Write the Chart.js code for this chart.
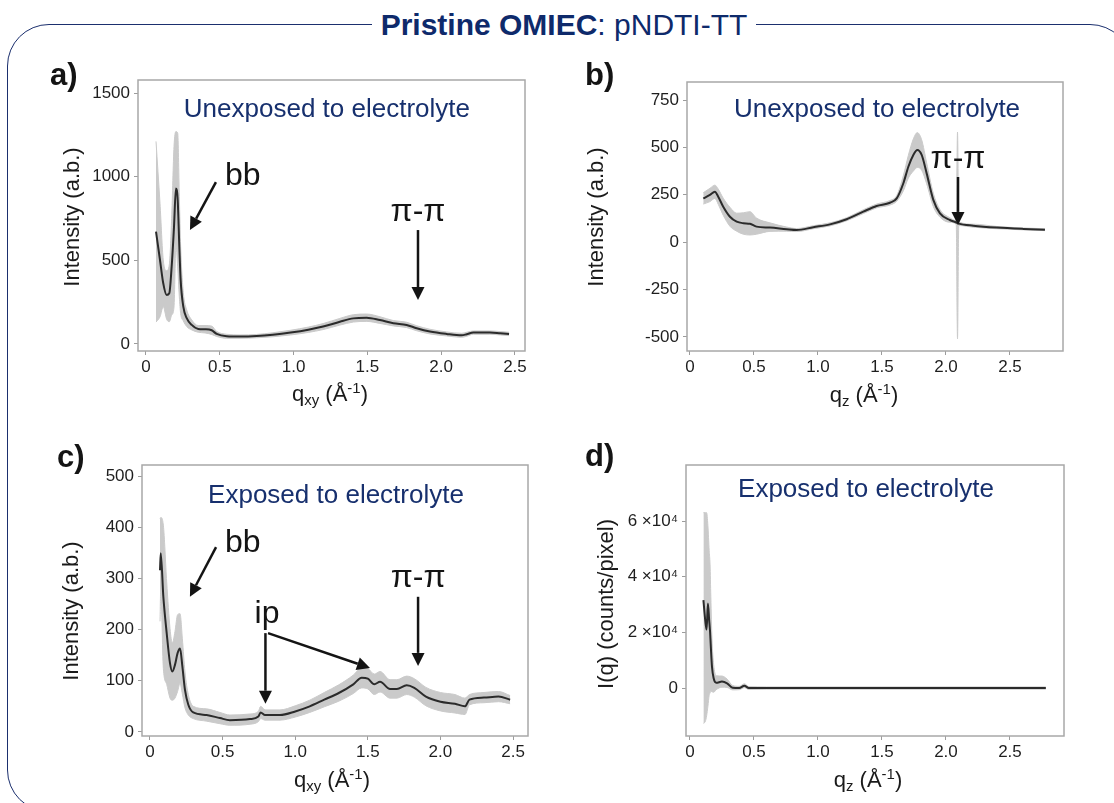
<!DOCTYPE html>
<html>
<head>
<meta charset="utf-8">
<script src="https://cdn.jsdelivr.net/npm/chart.js@4.4.1/dist/chart.umd.min.js"></script>
<style>
  html, body { margin: 0; padding: 0; background: #fff; overflow: hidden; }
  body { width: 1114px; height: 803px; position: relative; font-family: "Liberation Sans", Arial, sans-serif; }
  #frame { position: absolute; left: 7px; top: 24px; width: 1125px; height: 788px;
           border: 1.5px solid #1b2f6e; border-radius: 42px; box-sizing: border-box; }
  #title { position: absolute; left: 0; top: 8px; width: 1128px; text-align: center;
           font-size: 30px; line-height: 34px; color: #0e2a6b; }
  #title span { background: #fff; padding: 0 9px; }
  canvas { position: absolute; }
</style>
</head>
<body>
<div id="frame"></div>
<div id="title"><span><b>Pristine OMIEC</b>: pNDTI-TT</span></div>
<canvas id="chartA"></canvas>
<canvas id="chartB"></canvas>
<canvas id="chartC"></canvas>
<canvas id="chartD"></canvas>

<script>
// ---- data ----
const qTicks = [0, 0.5, 1.0, 1.5, 2.0, 2.5];

// a) in-plane, unexposed
const aQ = [0.068, 0.095, 0.117, 0.140, 0.158, 0.174, 0.190, 0.203, 0.215, 0.226,
            0.235, 0.253, 0.276, 0.31, 0.354, 0.40, 0.445, 0.479, 0.547, 0.637,
            0.75, 0.86, 0.98, 1.10, 1.20, 1.314, 1.405, 1.495, 1.585, 1.676,
            1.766, 1.834, 1.924, 2.037, 2.139, 2.173, 2.218, 2.33, 2.40, 2.46];
const aI = [671, 502, 363, 293, 303, 462, 701, 930, 861, 582,
            382, 223, 154, 114, 90, 88, 82, 60, 46, 44,
            47, 55, 68, 85, 104, 133, 153, 157, 143, 124,
            114, 94, 74, 60, 52, 58, 68, 68, 64, 60];
const aErr = [540, 340, 140, 145, 170, 290, 480, 340, 400, 300,
              200, 85, 50, 30, 20, 22, 25, 15, 12, 10,
              10, 12, 14, 16, 18, 20, 22, 22, 20, 16,
              16, 15, 14, 12, 12, 12, 10, 10, 10, 10];
const aYTicks = [0, 500, 1000, 1500];

// b) out-of-plane, unexposed
const bQ = [0.104, 0.156, 0.195, 0.221, 0.26, 0.3125, 0.365, 0.417, 0.469, 0.52,
            0.625, 0.755, 0.833, 0.964, 1.094, 1.224, 1.354, 1.458, 1.5625, 1.615,
            1.667, 1.706, 1.745, 1.776, 1.81, 1.849, 1.901, 1.953, 2.03, 2.08,
            2.09, 2.10, 2.214, 2.396, 2.604, 2.773];
const bI = [231, 249, 266, 240, 187, 134, 108, 100, 97, 82,
            77, 68, 64, 79, 94, 121, 161, 191, 208, 231,
            311, 398, 460, 486, 460, 363, 223, 152, 117, 104,
            101, 98, 87, 77, 70, 66];
const bErrUp = [30, 35, 35, 40, 45, 50, 45, 55, 64, 45,
                25, 12, 8, 8, 8, 8, 10, 10, 12, 15,
                40, 60, 85, 92, 80, 55, 35, 20, 12, 10,
                480, 10, 8, 6, 5, 5];
const bErrDn = [30, 35, 35, 40, 45, 50, 50, 58, 59, 40,
                20, 10, 8, 8, 8, 8, 10, 10, 12, 15,
                40, 60, 85, 92, 80, 55, 35, 20, 12, 10,
                611, 10, 8, 6, 5, 5];
const bYTicks = [-500, -250, 0, 250, 500, 750];

// c) in-plane, exposed
const cQ = [0.069, 0.074, 0.092, 0.115, 0.138, 0.154, 0.172, 0.19, 0.207, 0.223,
            0.241, 0.264, 0.298, 0.39, 0.482, 0.55, 0.689, 0.746, 0.762, 0.792,
            0.895, 1.0, 1.1, 1.2, 1.3, 1.4, 1.458, 1.5, 1.545, 1.584,
            1.653, 1.70, 1.768, 1.82, 1.9, 2.0, 2.1, 2.169, 2.20, 2.3,
            2.4, 2.48];
const cI = [316, 349, 264, 193, 134, 118, 131, 154, 163, 128,
            82, 53, 38, 33, 27, 23, 25, 30, 38, 33,
            33, 40, 50, 63, 76, 93, 106, 104, 93, 98,
            84, 84, 91, 86, 69, 59, 55, 50, 63, 67,
            69, 63];
const cErr = [100, 70, 140, 100, 68, 56, 65, 75, 68, 54,
              35, 20, 12, 12, 11, 10, 10, 10, 12, 10,
              10, 11, 12, 14, 16, 18, 20, 20, 20, 20,
              18, 18, 18, 18, 18, 18, 18, 16, 10, 10,
              10, 8];
const cYTicks = [0, 100, 200, 300, 400, 500];

// d) out-of-plane, exposed
const dQ = [0.105, 0.12, 0.13, 0.14, 0.15, 0.157, 0.163, 0.172, 0.185, 0.205,
            0.25, 0.29, 0.333, 0.385, 0.425, 0.46, 0.6, 1.0, 1.5, 2.0,
            2.5, 2.78];
const dI = [31600, 24000, 21000, 30400, 24400, 20200, 14800, 7650, 3480, 1900,
            2300, 1700, 120, 0, 830, 0, 0, 0, 0, 0,
            0, 0];
const dErrUp = [31400, 39000, 42000, 28000, 25000, 24000, 18000, 10000, 5000, 2500,
                2000, 1500, 800, 600, 700, 500, 400, 400, 400, 400,
                400, 400];
const dErrDn = [44300, 36000, 31000, 37000, 27000, 22000, 16000, 9000, 5000, 2500,
                2000, 1500, 800, 600, 700, 500, 400, 400, 400, 400,
                400, 400];
const dYTicks = [0, 20000, 40000, 60000];

// ---- layout ----
const FONT = '"Liberation Sans", Arial, sans-serif';
const NAVY = '#17306e';
const INK = '#141414';
const PADL = 110, PADT = 30, PADR = 20, PADB = 70;

const qxyTitle = [{t: 'q'}, {t: 'xy', s: 'sub'}, {t: ' (Å'}, {t: '-1', s: 'sup'}, {t: ')'}];
const qzTitle = [{t: 'q'}, {t: 'z', s: 'sub'}, {t: ' (Å'}, {t: '-1', s: 'sup'}, {t: ')'}];

const qFmt = v => v === 0 ? '0' : v.toFixed(1);

const panels = [
  { id: 'chartA', box: [138, 80, 525, 351], q: aQ, I: aI, up: aErr, dn: aErr,
    xr: [-0.054, 2.568], yr: [-42, 1578], yTicks: aYTicks, yFmt: v => String(v),
    letter: ['a)', 50, 85], yTitle: ['Intensity (a.b.)', 73, 217], xTitle: [qxyTitle, 330, 401],
    heading: ['Unexposed to electrolyte', 1.226, 1357],
    notes: [['bb', 0.535, 950, 'left'], ['π-π', 1.843, 735, 'center']],
    arrows: [[0.474, 968, 0.298, 681], [1.843, 681, 1.843, 263]] },
  { id: 'chartB', box: [687, 82, 1063, 351], q: bQ, I: bI, up: bErrUp, dn: bErrDn,
    xr: [-0.023, 2.914], yr: [-574, 845], yTicks: bYTicks, yFmt: v => String(v),
    letter: ['b)', 585, 85], yTitle: ['Intensity (a.b.)', 597, 217], xTitle: [qzTitle, 864, 402],
    heading: ['Unexposed to electrolyte', 1.461, 660],
    notes: [['π-π', 2.094, 391, 'center']],
    arrows: [[2.094, 344, 2.094, 91]] },
  { id: 'chartC', box: [142, 465, 528, 736], q: cQ, I: cI, up: cErr, dn: cErr,
    xr: [-0.055, 2.603], yr: [-8, 521.5], yTicks: cYTicks, yFmt: v => String(v),
    letter: ['c)', 57, 467], yTitle: ['Intensity (a.b.)', 72, 611], xTitle: [qxyTitle, 332, 787],
    heading: ['Exposed to electrolyte', 1.281, 447],
    notes: [['bb', 0.517, 352, 'left'], ['π-π', 1.846, 283, 'center'], ['ip', 0.806, 213, 'center']],
    arrows: [[0.455, 361, 0.275, 264], [1.846, 264, 1.846, 129],
             [0.795, 193, 0.795, 55], [0.813, 193, 1.515, 125]] },
  { id: 'chartD', box: [686, 465, 1064, 736], q: dQ, I: dI, up: dErrUp, dn: dErrDn,
    xr: [-0.031, 2.922], yr: [-17240, 80120], yTicks: dYTicks,
    yFmt: v => v === 0 ? '0' : (v / 10000) + ' ×10⁴',
    letter: ['d)', 585, 466], yTitle: ['I(q) (counts/pixel)', 607, 604], xTitle: [qzTitle, 868, 787],
    heading: ['Exposed to electrolyte', 1.375, 68630],
    notes: [], arrows: [] }
];

function drawArrow(ctx, x1, y1, x2, y2) {
  const ang = Math.atan2(y2 - y1, x2 - x1);
  const hl = 13, hw = 6.5;
  const bx = x2 - hl * Math.cos(ang), by = y2 - hl * Math.sin(ang);
  ctx.beginPath();
  ctx.moveTo(x1, y1);
  ctx.lineTo(bx, by);
  ctx.stroke();
  ctx.beginPath();
  ctx.moveTo(x2, y2);
  ctx.lineTo(bx + hw * Math.sin(ang), by - hw * Math.cos(ang));
  ctx.lineTo(bx - hw * Math.sin(ang), by + hw * Math.cos(ang));
  ctx.closePath();
  ctx.fill();
}

function richText(ctx, parts, cx, y, size) {
  const fs = p => p.s ? size * 0.68 : size;
  let w = 0;
  parts.forEach(p => { ctx.font = fs(p) + 'px ' + FONT; w += ctx.measureText(p.t).width; });
  let x = cx - w / 2;
  ctx.textAlign = 'left';
  ctx.textBaseline = 'alphabetic';
  parts.forEach(p => {
    ctx.font = fs(p) + 'px ' + FONT;
    const dy = p.s === 'sub' ? size * 0.2 : p.s === 'sup' ? -size * 0.38 : 0;
    ctx.fillText(p.t, x, y + dy);
    x += ctx.measureText(p.t).width;
  });
}

const decor = {
  id: 'decor',
  afterDraw(chart) {
    const p = chart.options.plugins.decor.panel;
    const {ctx, chartArea: ca} = chart;
    const xs = chart.scales.x, ys = chart.scales.y;
    const ox = p.box[0] - PADL, oy = p.box[1] - PADT;
    ctx.save();

    ctx.strokeStyle = '#a8a8a8';
    ctx.lineWidth = 1.5;
    ctx.strokeRect(ca.left, ca.top, ca.right - ca.left, ca.bottom - ca.top);

    ctx.fillStyle = NAVY;
    ctx.font = '26px ' + FONT;
    ctx.textAlign = 'center';
    ctx.textBaseline = 'alphabetic';
    ctx.fillText(p.heading[0], xs.getPixelForValue(p.heading[1]), ys.getPixelForValue(p.heading[2]));

    ctx.fillStyle = INK;
    ctx.strokeStyle = INK;
    ctx.lineWidth = 2.5;
    ctx.font = '32px ' + FONT;
    p.notes.forEach(n => {
      ctx.textAlign = n[3];
      ctx.fillText(n[0], xs.getPixelForValue(n[1]), ys.getPixelForValue(n[2]));
    });
    p.arrows.forEach(a => drawArrow(ctx,
      xs.getPixelForValue(a[0]), ys.getPixelForValue(a[1]),
      xs.getPixelForValue(a[2]), ys.getPixelForValue(a[3])));

    ctx.font = 'bold 31px ' + FONT;
    ctx.textAlign = 'left';
    ctx.fillText(p.letter[0], p.letter[1] - ox, p.letter[2] - oy);

    ctx.fillStyle = '#1a1a1a';
    ctx.save();
    ctx.translate(p.yTitle[1] - ox, p.yTitle[2] - oy);
    ctx.rotate(-Math.PI / 2);
    ctx.font = '22px ' + FONT;
    ctx.textAlign = 'center';
    ctx.textBaseline = 'middle';
    ctx.fillText(p.yTitle[0], 0, 0);
    ctx.restore();

    richText(ctx, p.xTitle[0], p.xTitle[1] - ox, p.xTitle[2] - oy, 22);
    ctx.restore();
  }
};

Chart.defaults.font.family = FONT;

const pts = (xs, ys) => xs.map((x, i) => ({x: x, y: ys[i]}));

panels.forEach(p => {
  const cv = document.getElementById(p.id);
  const w = p.box[2] - p.box[0] + PADL + PADR;
  const h = p.box[3] - p.box[1] + PADT + PADB;
  cv.width = w; cv.height = h;
  cv.style.left = (p.box[0] - PADL) + 'px';
  cv.style.top = (p.box[1] - PADT) + 'px';
  cv.style.width = w + 'px'; cv.style.height = h + 'px';

  const tickOpts = {font: {size: 17}, color: '#1e1e1e', autoSkip: false, maxRotation: 0};
  const gridOpts = {display: true, drawOnChartArea: false, drawTicks: true, tickLength: 4, color: '#9c9c9c'};

  new Chart(cv, {
    type: 'line',
    data: {
      datasets: [
        { data: pts(p.q, p.I), borderColor: '#2b2b2b', borderWidth: 2, pointRadius: 0,
          cubicInterpolationMode: 'monotone', fill: false },
        { data: pts(p.q, p.I.map((v, i) => v - p.dn[i])), borderColor: '#cacaca', borderWidth: 1,
          pointRadius: 0, cubicInterpolationMode: 'monotone', fill: false },
        { data: pts(p.q, p.I.map((v, i) => v + p.up[i])), borderColor: '#cacaca', borderWidth: 1,
          pointRadius: 0, cubicInterpolationMode: 'monotone', fill: '-1', backgroundColor: '#cacaca' }
      ]
    },
    options: {
      responsive: false,
      animation: false,
      devicePixelRatio: 1,
      layout: {padding: {left: 0, top: PADT, right: PADR, bottom: 0}},
      plugins: {legend: {display: false}, tooltip: {enabled: false}, decor: {panel: p}},
      scales: {
        x: {
          type: 'linear', min: p.xr[0], max: p.xr[1],
          afterFit: s => { s.height = PADB; },
          afterBuildTicks: s => { s.ticks = qTicks.map(v => ({value: v})); },
          grid: gridOpts, border: {display: false},
          ticks: Object.assign({padding: 2, callback: qFmt}, tickOpts)
        },
        y: {
          type: 'linear', min: p.yr[0], max: p.yr[1],
          afterFit: s => { s.width = PADL; },
          afterBuildTicks: s => { s.ticks = p.yTicks.map(v => ({value: v})); },
          grid: gridOpts, border: {display: false},
          ticks: Object.assign({padding: 4, callback: p.yFmt}, tickOpts)
        }
      }
    },
    plugins: [decor]
  });
});
</script>
</body>
</html>
